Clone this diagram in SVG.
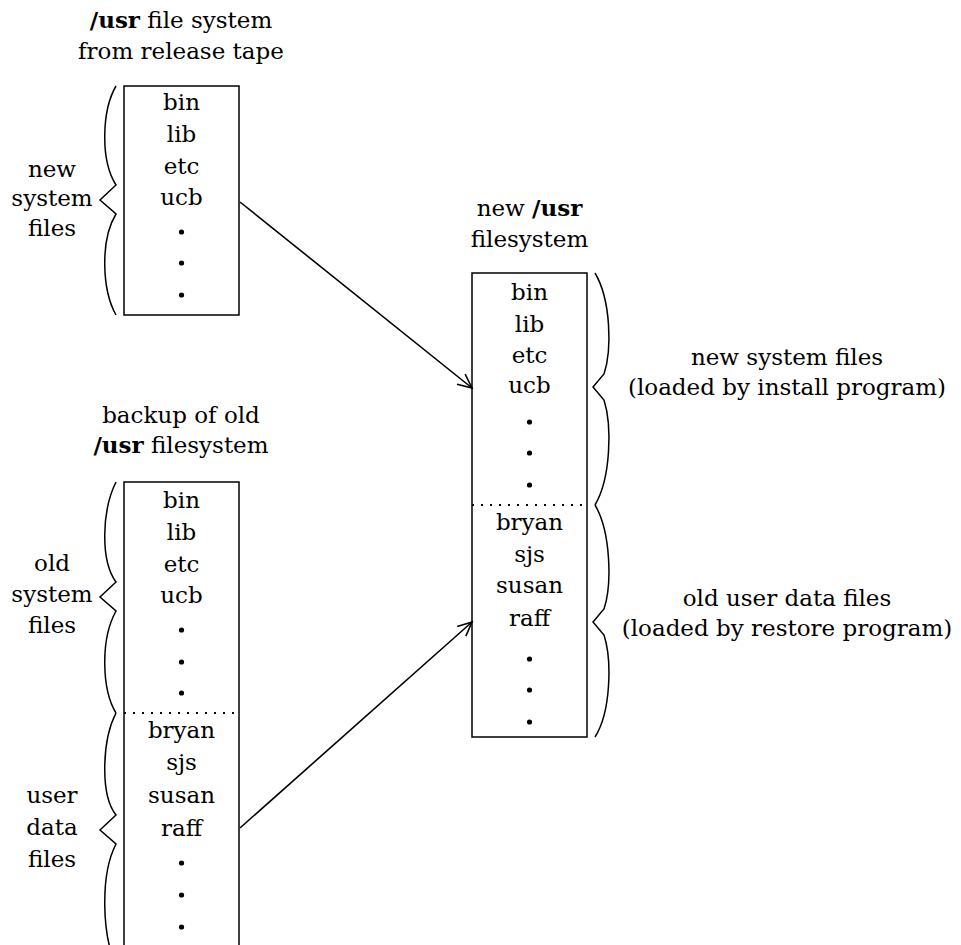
<svg xmlns="http://www.w3.org/2000/svg" width="961" height="945" viewBox="0 0 961 945">
<defs>
<style>
text{font-family:"DejaVu Serif","Liberation Serif",serif;font-size:23px;fill:#000;text-anchor:middle}
.b{font-weight:bold}
.box{fill:none;stroke:#000;stroke-width:1.5}
.brace{fill:none;stroke:#000;stroke-width:1.5;stroke-linejoin:miter}
.dotline{stroke:#000;stroke-width:2;stroke-dasharray:2 7}
.conn{fill:none;stroke:#000;stroke-width:1.6}
</style>
<marker id="ah" markerUnits="userSpaceOnUse" markerWidth="20" markerHeight="20" refX="16" refY="10" orient="auto">
<path d="M2,3.5 L16,10 L2,16.5" fill="none" stroke="#000" stroke-width="1.6"/>
</marker>
<circle id="dot" r="2.6" fill="#000"/>
</defs>
<rect width="961" height="945" fill="#fff"/>

<g id="release-tape">
<text x="181" y="28"><tspan class="b">/usr</tspan> file system</text>
<text x="181" y="59">from release tape</text>
<rect class="box" x="124" y="86" width="115" height="229"/>
<text x="181.5" y="110">bin</text>
<text x="181.5" y="142">lib</text>
<text x="181.5" y="174">etc</text>
<text x="181.5" y="205">ucb</text>
<use href="#dot" x="181.5" y="232"/>
<use href="#dot" x="181.5" y="263"/>
<use href="#dot" x="181.5" y="295"/>
<path class="brace" d="M116,86 C102,110 100,160 116,185 L100,200 L116,214 C100,240 102,290 116,315"/>
<text x="52" y="177">new</text>
<text x="52" y="206">system</text>
<text x="52" y="236">files</text>
</g>

<g id="backup-old">
<text x="181" y="423">backup of old</text>
<text x="181" y="453"><tspan class="b">/usr</tspan> filesystem</text>
<rect class="box" x="124" y="482" width="115" height="520"/>
<text x="181.5" y="508">bin</text>
<text x="181.5" y="540">lib</text>
<text x="181.5" y="572">etc</text>
<text x="181.5" y="603">ucb</text>
<use href="#dot" x="181.5" y="630"/>
<use href="#dot" x="181.5" y="662"/>
<use href="#dot" x="181.5" y="693"/>
<line class="dotline" x1="124" y1="713" x2="239" y2="713"/>
<text x="181.5" y="738">bryan</text>
<text x="181.5" y="770">sjs</text>
<text x="181.5" y="803">susan</text>
<text x="181.5" y="836">raff</text>
<use href="#dot" x="181.5" y="863"/>
<use href="#dot" x="181.5" y="895"/>
<use href="#dot" x="181.5" y="927"/>
<path class="brace" d="M116,482 C102,510 100,560 116,582 L100,597 L116,611 C100,640 102,690 116,713"/>
<path class="brace" d="M116,713 C102,740 100,795 116,815 L100,830 L116,844 C100,875 102,935 116,965"/>
<text x="52" y="571">old</text>
<text x="52" y="602">system</text>
<text x="52" y="633">files</text>
<text x="52" y="803">user</text>
<text x="52" y="835">data</text>
<text x="52" y="867">files</text>
</g>

<g id="new-usr">
<text x="529.5" y="216">new <tspan class="b">/usr</tspan></text>
<text x="529.5" y="247">filesystem</text>
<rect class="box" x="472" y="273" width="115" height="464"/>
<text x="529.5" y="300">bin</text>
<text x="529.5" y="332">lib</text>
<text x="529.5" y="363">etc</text>
<text x="529.5" y="393">ucb</text>
<use href="#dot" x="529.5" y="422"/>
<use href="#dot" x="529.5" y="453"/>
<use href="#dot" x="529.5" y="485"/>
<line class="dotline" x1="472" y1="505" x2="587" y2="505"/>
<text x="529.5" y="530">bryan</text>
<text x="529.5" y="562">sjs</text>
<text x="529.5" y="593">susan</text>
<text x="529.5" y="626">raff</text>
<use href="#dot" x="529.5" y="659"/>
<use href="#dot" x="529.5" y="690"/>
<use href="#dot" x="529.5" y="722"/>
<path class="brace" d="M595,273 C611,300 612,350 604,374 L593,387 L604,400 C612,425 611,478 595,505"/>
<path class="brace" d="M595,505 C611,532 612,585 604,609 L593,622 L604,635 C612,660 611,712 595,737"/>
<text x="787" y="365">new system files</text>
<text x="787" y="395">(loaded by install program)</text>
<text x="787" y="606">old user data files</text>
<text x="787" y="636">(loaded by restore program)</text>
</g>

<g id="connectors">
<line class="conn" x1="240" y1="202" x2="472" y2="388" marker-end="url(#ah)"/>
<line class="conn" x1="240" y1="828" x2="472" y2="622" marker-end="url(#ah)"/>
</g>
</svg>
